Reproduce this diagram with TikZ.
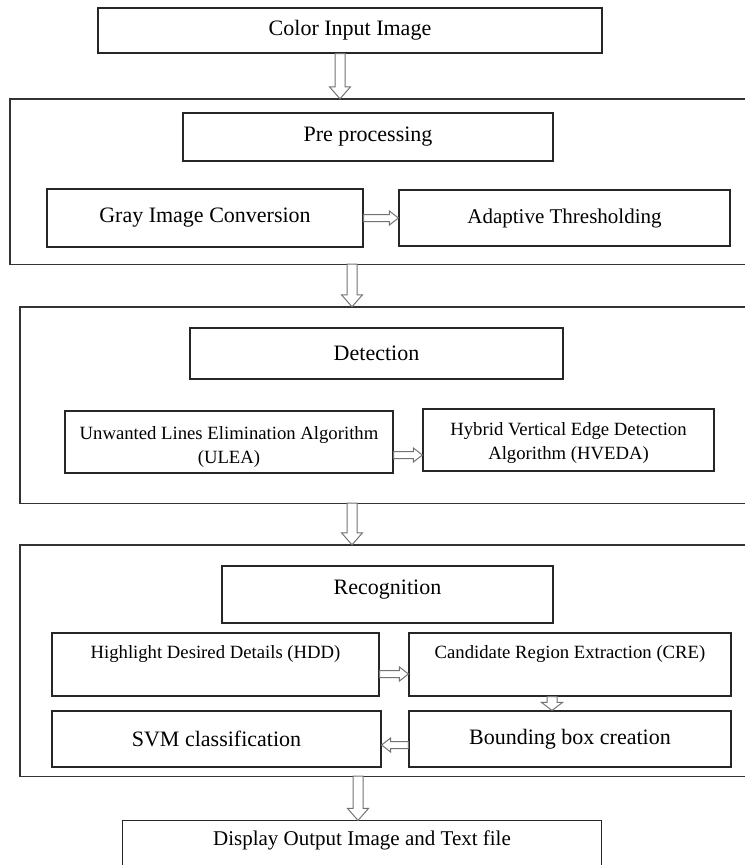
\documentclass[tikz,border=0pt]{standalone}
\usepackage{fontspec}
\setmainfont{Liberation Serif}
\usetikzlibrary{calc}
\tikzstyle{box} = [draw=black!85, line width=1.2pt, rectangle, inner sep=0pt, align=center, font=\fontsize{22}{26}\selectfont]
\tikzstyle{small} = [font=\fontsize{18.7}{23.5}\selectfont]
\tikzstyle{frame} = [draw=black!80, line width=1.4pt]
\tikzstyle{hollow} = [draw=black!55, line width=1pt, fill=white]

% hollow block arrow going down, shaft at x of #1, tip at y of #2, head length #3
\newcommand{\varrow}[3]{%
  \draw[hollow] let \p1=(#1), \p2=(#2) in
    (\x1-5pt,\y1) -- (\x1-5pt,\y2+#3) -- (\x1-10.5pt,\y2+#3) -- (\x1,\y2)
    -- (\x1+10.5pt,\y2+#3) -- (\x1+5pt,\y2+#3) -- (\x1+5pt,\y1) -- cycle;
}
% hollow block arrow going left or right, at y of #1, tip at x of #2
\newcommand{\harrow}[2]{%
  \draw[hollow] let \p1=(#1), \p2=(#2), \n1={(\x2>\x1)*2-1} in
    (\x1,\y1+3.5pt) -- (\x2-\n1*9pt,\y1+3.5pt) -- (\x2-\n1*9pt,\y1+7pt) -- (\x2,\y1)
    -- (\x2-\n1*9pt,\y1-7pt) -- (\x2-\n1*9pt,\y1-3.5pt) -- (\x1,\y1-3.5pt) -- cycle;
}

\begin{document}
\begin{tikzpicture}[x=1pt, y=-1pt]
\useasboundingbox (0,0) rectangle (745,865);

\node [box, minimum width=504, minimum height=45] (cin) at (350,30.5) {Color Input Image};

% pre processing stage
\node [minimum width=735, minimum height=165, inner sep=0pt] (fpre) at (377.5,181.5) {};
\draw[frame] (fpre.north east) -- (fpre.north west) -- (fpre.south west) -- (fpre.south east);
\node [box, minimum width=370, minimum height=48] (pre) at (368,137) {Pre processing};
\node [box, minimum width=316, minimum height=58] (gray) at (205,218) {Gray Image Conversion};
\node [box, minimum width=331, minimum height=56, font=\fontsize{21}{25}\selectfont] (adapt) at (564.5,218) {Adaptive Thresholding};

% detection stage
\node [minimum width=725, minimum height=196, inner sep=0pt] (fdet) at (382.5,405) {};
\draw[frame] (fdet.north east) -- (fdet.north west) -- (fdet.south west) -- (fdet.south east);
\node [box, minimum width=373, minimum height=51] (det) at (376.5,353.5) {Detection};
\node [box, small, minimum width=328, text height=52, text depth=10] (ulea) at (229,442) {Unwanted Lines Elimination Algorithm\\(ULEA)};
\node [box, small, minimum width=291, text height=50, text depth=12] (hveda) at (568.5,440) {Hybrid Vertical Edge Detection\\Algorithm (HVEDA)};

% recognition stage
\node [minimum width=725, minimum height=231, inner sep=0pt] (frec) at (382.5,660.5) {};
\draw[frame] (frec.north east) -- (frec.north west) -- (frec.south west) -- (frec.south east);
\node [box, minimum width=331, text height=28.5, text depth=28.5] (rec) at (387.5,594.5) {Recognition};
\node [box, small, minimum width=327, text height=25, text depth=38] (hdd) at (215.5,664.5) {Highlight Desired Details (HDD)};
\node [box, small, minimum width=322, text height=25, text depth=38] (cre) at (570,664.5) {Candidate Region Extraction (CRE)};
\node [box, minimum width=329, minimum height=56] (svm) at (216.5,739) {SVM classification};
\node [box, minimum width=322, minimum height=56] (bbc) at (570,739) {Bounding box creation};

% output
\node [box, draw=none, minimum width=478, text height=24, text depth=20, font=\fontsize{21}{25}\selectfont] (disp) at (362,843) {Display Output Image and Text file};
\draw[draw=black!85, line width=1.2pt] (disp.south west) |- (disp.north east) -- (disp.south east);

% arrows
\varrow{$(cin.south)+(-10,0)$}{fpre.north}{12pt}
\varrow{$(fpre.south)+(-25.5,0)$}{fdet.north}{12pt}
\varrow{$(fdet.south)+(-30.5,0)$}{frec.north}{12pt}
\varrow{$(frec.south)+(-24.5,0)$}{disp.north}{12pt}
\varrow{$(cre.south)+(-18,0)$}{bbc.north}{8pt}
\harrow{gray.east}{adapt.west}
\harrow{$(ulea.east)+(0,13)$}{$(hveda.west)+(0,15)$}
\harrow{$(hdd.east)+(0,9.5)$}{$(cre.west)+(0,9.5)$}
\harrow{$(bbc.west)+(0,6)$}{$(svm.east)+(0,6)$}

\end{tikzpicture}
\end{document}
